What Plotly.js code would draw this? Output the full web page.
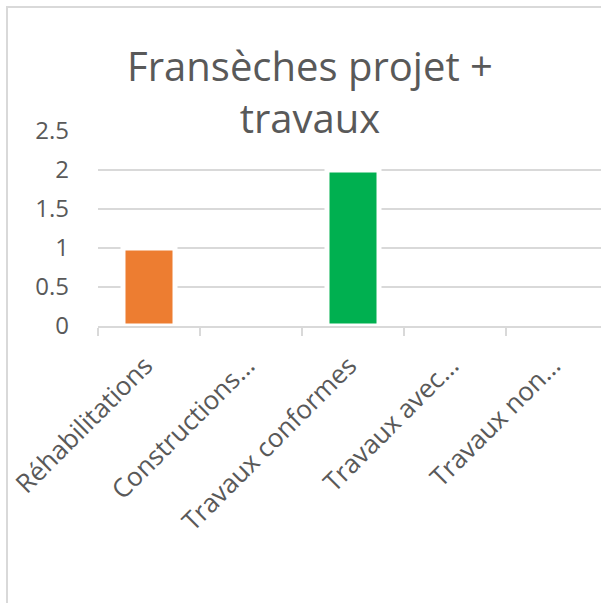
<!DOCTYPE html>
<html>
<head>
<meta charset="utf-8">
<script src="https://cdn.plot.ly/plotly-3.0.1.min.js"></script>
<style>
  html, body { margin: 0; padding: 0; background: #fff; overflow: hidden; }
  #frame {
    position: absolute; left: 6px; top: 6px;
    width: 660px; height: 595px;
    border: 2px solid #d9d9d9; background: #fff;
  }
  #chart { width: 660px; height: 595px; }
</style>
</head>
<body>
<div id="frame"><div id="chart"></div></div>
<script>
// chart data
const categories = ["Réhabilitations", "Constructions…", "Travaux conformes", "Travaux avec…", "Travaux non…"];
const values = [1, 0, 2, 0, 0];
const yTicks = [0, 0.5, 1, 1.5, 2, 2.5];
const yTickLabels = ["0", "0.5", "1", "1.5", "2", "2.5"];

// per-bar fill, as in the Excel sheet
const barColors = ["#ED7D31", "#A5A5A5", "#00B050", "#5B9BD5", "#FFC000"];

const grey = "#595959";
const lineGrey = "#d9d9d9";

const trace = {
  type: "bar",
  x: categories,
  y: values,
  // white outline cuts the gridlines around each bar, like Excel
  marker: { color: barColors, line: { width: 5, color: "#fff" } },
  hoverinfo: "x+y"
};

const layout = {
  width: 660,
  height: 595,
  paper_bgcolor: "#fff",
  plot_bgcolor: "#fff",
  font: { family: "Open Sans, sans-serif", color: grey, size: 25 },
  title: {
    text: "Fransèches projet +<br>travaux",
    font: { family: "Open Sans, sans-serif", size: 40, color: grey },
    xref: "container", x: 302 / 660, xanchor: "center",
    yref: "container", y: 1 - 73 / 595, yanchor: "top"
  },
  margin: { l: 90, r: 60, t: 122.5, b: 276.5 },
  bargap: 0.49,
  showlegend: false,
  xaxis: {
    type: "category",
    showgrid: false,
    showline: true,
    linecolor: lineGrey,
    linewidth: 2,
    ticks: "outside",
    tickson: "boundaries",
    ticklen: 8,
    tickwidth: 2,
    tickcolor: lineGrey,
    tickangle: -45,
    ticklabelstandoff: 12,
    ticklabelshift: -4,
    tickfont: { size: 26, color: grey }
  },
  yaxis: {
    range: [0, 2.5],
    tickvals: yTicks,
    ticktext: yTickLabels,
    showgrid: true,
    gridcolor: lineGrey,
    gridwidth: 2,
    zeroline: false,
    showline: false,
    ticks: "",
    ticklabelstandoff: 28,
    tickfont: { size: 24, color: grey }
  }
};

Plotly.newPlot("chart", [trace], layout, { displayModeBar: false, staticPlot: true });
</script>
</body>
</html>
